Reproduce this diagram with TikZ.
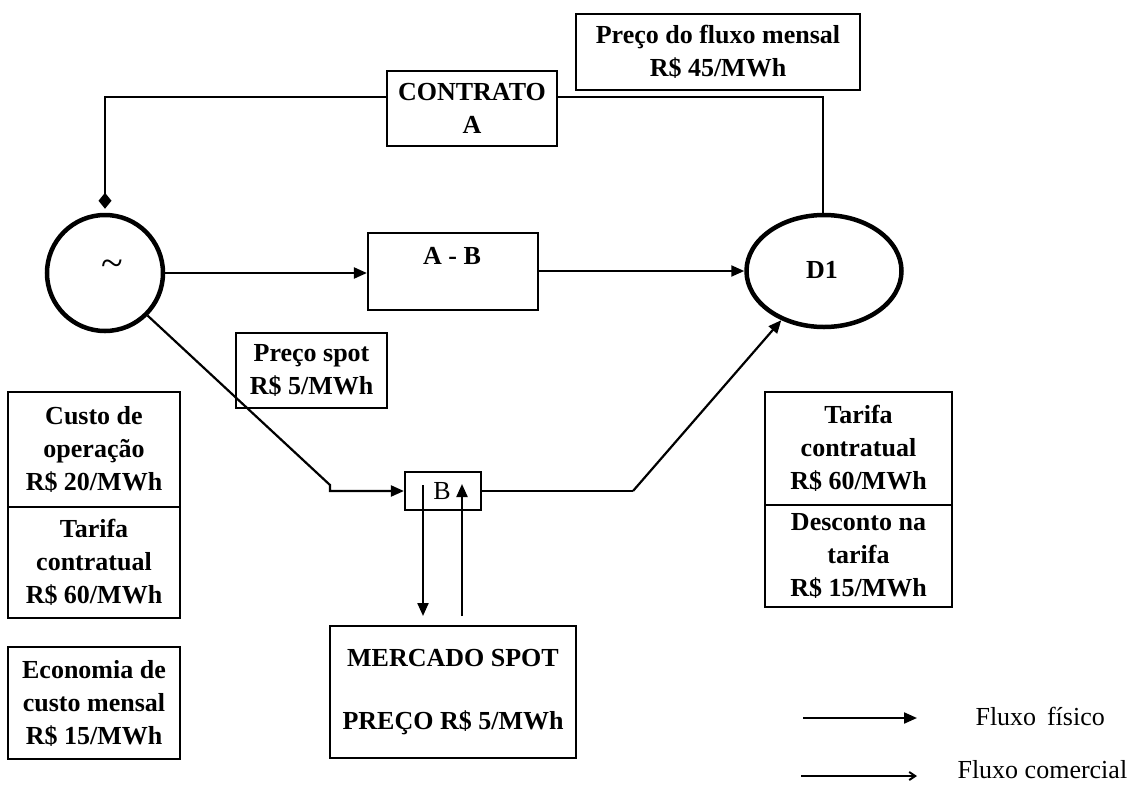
\documentclass[tikz,border=0pt]{standalone}
\usepackage{fontspec}
\setmainfont{Liberation Serif}
\usetikzlibrary{arrows.meta,shapes.geometric}
\begin{document}
\begin{tikzpicture}[x=1pt,y=-1pt,
  txt/.style={font=\bfseries\fontsize{26}{33}\selectfont, align=center},
  box/.style={txt, draw, line width=2.2pt, inner sep=0pt},
  phys/.style={line width=2.2pt, -{Triangle[length=13pt,width=11pt]}},
  comm/.style={line width=2.2pt, -{Diamond[length=16pt,width=13pt]}},
  plain/.style={line width=2.2pt},
  leg/.style={font=\fontsize{26}{30}\selectfont, anchor=west}]
\useasboundingbox (0,0) rectangle (1138,785);

% main nodes
\node[draw, circle, line width=4.5pt, minimum size=116pt, inner sep=0pt] (gen) at (105,273) {};
\node[font=\fontsize{40}{40}\selectfont] (tilde) at (112,268) {\textasciitilde};
\node[draw, ellipse, line width=4.5pt, minimum width=155pt, minimum height=112pt, inner sep=0pt] (d1) at (824,271) {};
\node[txt] (d1t) at (822,270) {D1};

\node[box, minimum width=170pt, minimum height=75pt] (contrato) at (472,108.5) {CONTRATO\\A};
\node[box, minimum width=284pt, minimum height=76pt] (preco) at (718,52) {Preço do fluxo mensal\\R\$ 45/MWh};
\node[box, minimum width=170pt, minimum height=77pt] (ab) at (453,271.5) {};
\node[txt] (abt) at (452,256) {A - B};
\node[box, minimum width=151pt, minimum height=75pt] (spot) at (311.5,370.5) {Preço spot\\R\$ 5/MWh};
\node[draw, line width=2.2pt, minimum width=76pt, minimum height=38pt, inner sep=0pt] (b) at (443,491) {};
\node[font=\fontsize{26}{30}\selectfont] (bt) at (442,491) {B};
\node[box, minimum width=246pt, minimum height=132pt] (mercado) at (453,692) {MERCADO SPOT\\[30pt]PREÇO R\$ 5/MWh};

\node[box, minimum width=172pt, minimum height=115pt] (l1) at (94,449.5) {Custo de\\operação\\R\$ 20/MWh};
\node[box, minimum width=172pt, minimum height=111pt] (l2) at (94,562.5) {Tarifa\\contratual\\R\$ 60/MWh};
\node[box, minimum width=172pt, minimum height=112pt] (econ) at (94,703) {Economia de\\custo mensal\\R\$ 15/MWh};
\node[box, minimum width=187pt, minimum height=113pt] (r1) at (858.5,448.5) {Tarifa\\contratual\\R\$ 60/MWh};
\node[box, minimum width=187pt, minimum height=102pt] (r2) at (858.5,556) {Desconto na\\tarifa\\R\$ 15/MWh};

% connectors
\coordinate (k1) at (105,97);
\coordinate (k2) at (823,97);
\draw[comm, shorten >=4pt] (contrato.west |- k1) -- (k1) -- (gen.north);
\draw[plain] (contrato.east |- k2) -- (k2) -- (d1.north -| k2);
\draw[phys] (gen.east) -- (gen.east -| ab.west);
\draw[phys] (ab.east |- d1.west) -- (d1.west);
\coordinate (k3) at (330,485);
\draw[phys] (gen.-45) -- (k3) -- (k3 |- b.west) -- (b.west);
\coordinate (k4) at (633,491);
\draw[plain] (b.east) -- (k4);
\draw[phys] (k4) -- (d1);
\coordinate (dtop) at (423,485);
\coordinate (dbot) at (423,616);
\coordinate (utop) at (462,484);
\coordinate (ubot) at (462,616);
\draw[phys] (dtop) -- (dbot);
\draw[phys] (ubot) -- (utop);

% legend
\coordinate (a1) at (803,718);
\coordinate (a2) at (917,718);
\coordinate (c1) at (801,776);
\coordinate (c2) at (917,776);
\draw[phys] (a1) -- (a2);
\draw[line width=2pt, -{Straight Barb[length=6pt,width=8pt]}] (c1) -- (c2);
\node[leg] (lg1) at (972,716) {Fluxo\, físico};
\node[leg] (lg2) at (954,770) {Fluxo comercial};
\end{tikzpicture}
\end{document}
